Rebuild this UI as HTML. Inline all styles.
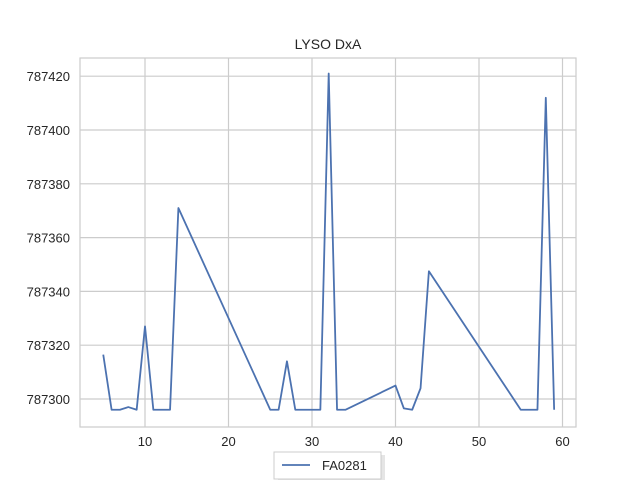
<!DOCTYPE html>
<html><head><meta charset="utf-8"><style>
body{margin:0;background:#fff;font-family:"Liberation Sans","DejaVu Sans",sans-serif;}
svg text{font-family:"Liberation Sans","DejaVu Sans",sans-serif;fill:#262626;}
</style></head><body>
<svg id="chart" width="640" height="480" viewBox="0 0 640 480" xmlns="http://www.w3.org/2000/svg">
<rect width="640" height="480" fill="#fff"/>
<text x="328" y="49" font-size="14" text-anchor="middle">LYSO DxA</text>
<g id="grid"></g>
<rect x="80" y="58" width="496" height="369" fill="none" stroke="#cccccc" stroke-width="1.2"/>
<g id="ticks"></g>
<g id="series"></g>
<g>
<rect x="276" y="453" width="107" height="27" fill="#ccc" opacity="0.5" transform="translate(2,2)"/>
<rect x="274" y="452" width="107" height="27" fill="#fff" stroke="#cccccc"/>
<line x1="282" y1="465" x2="310" y2="465" stroke="#4c72b0" stroke-width="1.8"/>
<text x="322" y="470" font-size="13">FA0281</text>
</g>
</svg>
<script>
const xs = [5,6,7,8,9,10,11,12,13,14,25,26,27,28,29,30,31,32,33,34,40,41,42,43,44,55,56,57,58,59];
const ys = [787316.5,787296,787296,787297,787296,787327,787296,787296,787296,787371,787296,787296,787314,787296,787296,787296,787296,787421,787296,787296,787305,787296.5,787296,787304,787347.5,787296,787296,787296,787412,787296];
const xTicks = [10,20,30,40,50,60];
const yTicks = [787300,787320,787340,787360,787380,787400,787420];
const NS="http://www.w3.org/2000/svg";
function sx(v){return 61.5+(v)*8.35;}
function sy(v){return 399-(v-787300)*2.69;}
const grid=document.getElementById('grid'), ticks=document.getElementById('ticks'), series=document.getElementById('series');
function mk(tag,attrs,parent){const e=document.createElementNS(NS,tag);for(const k in attrs)e.setAttribute(k,attrs[k]);parent.appendChild(e);return e;}
xTicks.forEach(t=>{
  const l=mk('line',{x1:sx(t),x2:sx(t),y1:58,y2:427,stroke:'#cccccc','stroke-width':1.2},grid);
  
  
  const tx=mk('text',{x:sx(t),y:446,'font-size':13,'text-anchor':'middle'},ticks);
  tx.textContent=t;
  
  
});
yTicks.forEach(t=>{
  const l=mk('line',{x1:80,x2:576,y1:sy(t),y2:sy(t),stroke:'#cccccc','stroke-width':1.2},grid);
  
  
  const tx=mk('text',{x:70,y:sy(t)+5,'font-size':13,'text-anchor':'end'},ticks);
  tx.textContent=t;
  
  
});
const p=mk('polyline',{points:xs.map((x,i)=>sx(x)+','+sy(ys[i])).join(' '),fill:'none',stroke:'#4c72b0','stroke-width':1.8,'stroke-linejoin':'round'},series);


</script>
</body></html>
